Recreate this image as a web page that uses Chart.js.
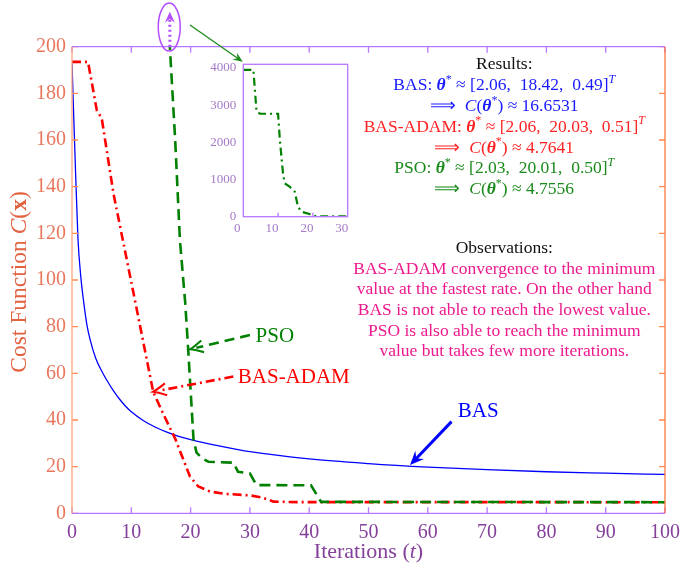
<!DOCTYPE html>
<html>
<head>
<meta charset="utf-8">
<script src="https://cdn.jsdelivr.net/npm/chart.js@4.4.0/dist/chart.umd.min.js"></script>
<style>
  html, body { margin: 0; padding: 0; background: #fff; }
  #wrap { position: relative; width: 681px; height: 569px; }
  #main  { position: absolute; left: 0; top: 0; }
  #inset { position: absolute; left: 195px; top: 55px; }
</style>
</head>
<body>
<div id="wrap">
  <canvas id="main" width="681" height="569"></canvas>
  <canvas id="inset" width="165" height="190"></canvas>
</div>
<script>
// ── data ─────────────────────────────────────────────────────────────────────
const basX  = [0, 0.5, 1, 1.5, 2, 2.5, 3, 4, 5, 6, 7, 8, 9, 10, 12, 14, 16, 18, 20, 25, 30, 40, 50, 60, 70, 80, 90, 100];
const basY  = [193, 154, 118, 101, 90, 81, 75, 66.5, 61, 56.5, 52.5, 49, 46, 43.5, 39.8, 37, 34.8, 33, 31.6, 28.8, 26.4, 23.3, 21.3, 19.8, 18.7, 17.8, 17.2, 16.65];

const adamX = [0, 2.7, 4.2, 5, 7, 10.6, 13.7, 15.5, 17.4, 19.9, 21.3, 23.3, 26, 30, 32, 34, 38, 100];
const adamY = [193.5, 193.5, 172.5, 169.5, 137, 91.5, 52, 42, 32, 15.7, 11.5, 9.3, 8.3, 7.7, 6.8, 5, 4.8, 4.76];

const psoX  = [16, 16.5, 17.4, 18.2, 19.1, 19.6, 19.9, 20.5, 21, 22, 23, 27.2, 28, 30, 31.1, 40.3, 42, 100];
const psoY  = [225, 200, 160, 117, 90, 70, 57, 31.4, 26, 23.5, 22.1, 21.7, 17.8, 17.1, 12.1, 12, 4.9, 4.76];

// inset: PSO over the first iterations
const insetX = [0, 2.9, 3.8, 4.8, 10, 10.5, 11.4, 11.9, 13.3, 14.8, 15.7, 16.7, 19, 20.5, 22, 30];
const insetY = [3950, 3950, 2830, 2770, 2770, 2070, 1170, 900, 810, 670, 270, 135, 73, 19, 10, 10];
const insetYTicks = [0, 1000, 2000, 3000, 4000];
const insetXTicks = [0, 10, 20, 30];

const xTicksMain = { min: 0, max: 100, step: 10 };
const yTicksMain = { min: 0, max: 200, step: 20 };

const pts = (xs, ys) => xs.map((v, i) => ({ x: v, y: ys[i] }));

// ── styles ───────────────────────────────────────────────────────────────────
const SERIF  = '"Liberation Serif", "Times New Roman", serif';
const f = (size, style) => `${style ? style + ' ' : ''}${size}px ${SERIF}`;

const _blue   = '#0000ff';
const _red    = '#ff0000';
const _green  = '#008000';
const _purple = '#b877ff';
const _orange = '#ff8a50';
const _xLbl   = '#84409a';
const _yLbl   = '#e8775d';
const _magenta = '#ec1a8c';

// draw a row of text pieces centred on cx
function runs(ctx, parts, cx, cy) {
  let w = 0;
  parts.forEach(p => { ctx.font = p.f; p.w = ctx.measureText(p.t).width; w += p.w; });
  let x = cx - w / 2;
  ctx.textAlign = 'left';
  ctx.textBaseline = 'middle';
  parts.forEach(p => {
    ctx.font = p.f; ctx.fillStyle = p.c;
    ctx.fillText(p.t, x, cy + (p.dy || 0));
    x += p.w;
  });
}

function arrow(ctx, x1, y1, x2, y2, o) {
  const ang = Math.atan2(y2 - y1, x2 - x1);
  const hl = o.head || 10, hw = o.hw || 5;
  ctx.save();
  ctx.strokeStyle = o.color; ctx.fillStyle = o.color;
  ctx.lineWidth = o.width; ctx.setLineDash(o.dash || []);
  ctx.beginPath();
  ctx.moveTo(x1, y1);
  ctx.lineTo(x2 - Math.cos(ang) * hl * 0.5, y2 - Math.sin(ang) * hl * 0.5);
  ctx.stroke();
  ctx.setLineDash([]);
  ctx.translate(x2, y2); ctx.rotate(ang);
  ctx.beginPath();
  if (o.open) {
    ctx.lineWidth = o.width * 0.8;
    ctx.moveTo(-hl, -hw); ctx.quadraticCurveTo(-hl * 0.3, -hw * 0.2, 0, 0);
    ctx.quadraticCurveTo(-hl * 0.3, hw * 0.2, -hl, hw);
    ctx.stroke();
  } else {
    ctx.moveTo(0, 0); ctx.lineTo(-hl, -hw); ctx.lineTo(-hl * 0.65, 0); ctx.lineTo(-hl, hw);
    ctx.closePath(); ctx.fill();
  }
  ctx.restore();
}

// frame, inner ticks, titles, annotations
const mainDecor = {
  id: 'mainDecor',
  afterDraw(chart) {
    const { ctx, chartArea: a, scales: { x, y } } = chart;
    const X = v => x.getPixelForValue(v), Y = v => y.getPixelForValue(v);
    ctx.save();
    ctx.lineWidth = 1.3;
    // inner ticks
    for (let v = xTicksMain.min; v <= xTicksMain.max; v += xTicksMain.step) {
      ctx.strokeStyle = _purple;
      ctx.beginPath();
      ctx.moveTo(X(v), a.bottom); ctx.lineTo(X(v), a.bottom - 6);
      ctx.moveTo(X(v), a.top); ctx.lineTo(X(v), a.top + 6);
      ctx.stroke();
    }
    for (let v = yTicksMain.min; v <= yTicksMain.max; v += yTicksMain.step) {
      ctx.strokeStyle = _orange;
      ctx.beginPath();
      ctx.moveTo(a.left, Y(v)); ctx.lineTo(a.left + 6, Y(v));
      ctx.moveTo(a.right, Y(v)); ctx.lineTo(a.right - 6, Y(v));
      ctx.stroke();
    }
    // frame
    ctx.strokeStyle = _purple;
    ctx.beginPath(); ctx.moveTo(a.left, a.top); ctx.lineTo(a.right, a.top);
    ctx.moveTo(a.left, a.bottom); ctx.lineTo(a.right, a.bottom); ctx.stroke();
    ctx.strokeStyle = '#ffa47a';
    ctx.beginPath(); ctx.moveTo(a.left, a.top); ctx.lineTo(a.left, a.bottom); ctx.stroke();
    ctx.strokeStyle = '#ff7a3c';
    ctx.beginPath(); ctx.moveTo(a.right, a.top); ctx.lineTo(a.right, a.bottom); ctx.stroke();

    // axis titles
    runs(ctx, [
      { t: 'Iterations (', f: f(22), c: _xLbl },
      { t: 't', f: f(22, 'italic'), c: _xLbl },
      { t: ')', f: f(22), c: _xLbl }
    ], (a.left + a.right) / 2, 552);
    ctx.save();
    ctx.translate(20, (a.top + a.bottom) / 2 + 2);
    ctx.rotate(-Math.PI / 2);
    runs(ctx, [
      { t: 'Cost Function ', f: f(23.5), c: '#e2613f' },
      { t: 'C', f: f(23.5, 'italic'), c: '#e2613f' },
      { t: '(', f: f(23.5), c: '#e2613f' },
      { t: 'x', f: f(23.5, 'bold'), c: '#e2613f' },
      { t: ')', f: f(23.5), c: '#e2613f' }
    ], 0, 0);
    ctx.restore();

    // results block
    const cx = X(72.9);
    const lh = 20.8;
    let ly = Y(192.2);
    const th = c => ({ t: 'θ', f: f(17.5, 'italic bold'), c });
    const st = c => ({ t: '*', f: f(12), c, dy: -6 });
    const sT = c => ({ t: 'T', f: f(12, 'italic'), c, dy: -6 });
    const cost = (c, val) => [
      { t: '⟹  ', f: f(17.5), c }, { t: 'C', f: f(17.5, 'italic'), c },
      { t: '(', f: f(17.5), c }, th(c), st(c), { t: ') ≈ ' + val, f: f(17.5), c }
    ];
    const theta = (c, name, vec) => [
      { t: name + ': ', f: f(17.5), c }, th(c), st(c),
      { t: ' ≈ [' + vec + ']', f: f(17.5), c }, sT(c)
    ];
    runs(ctx, [{ t: 'Results:', f: f(17.5), c: '#111' }], cx, ly);
    runs(ctx, theta('#1a1aff', 'BAS', '2.06,  18.42,  0.49'), cx, ly += lh);
    runs(ctx, cost('#1a1aff', '16.6531'), cx, ly += lh);
    runs(ctx, theta('#ff2424', 'BAS-ADAM', '2.06,  20.03,  0.51'), cx, ly += lh);
    runs(ctx, cost('#ff2424', '4.7641'), cx, ly += lh);
    runs(ctx, theta('#1a8a1a', 'PSO', '2.03,  20.01,  0.50'), cx, ly += lh);
    runs(ctx, cost('#1a8a1a', '4.7556'), cx, ly += lh);

    // observations block
    const obs = [
      'BAS-ADAM convergence to the minimum',
      'value at the fastest rate. On the other hand',
      'BAS is not able to reach the lowest value.',
      'PSO is also able to reach the minimum',
      'value but takes few more iterations.'
    ];
    let oy = Y(113.6);
    runs(ctx, [{ t: 'Observations:', f: f(17.5), c: '#111' }], cx, oy);
    obs.forEach(s => runs(ctx, [{ t: s, f: f(17.5), c: _magenta }], cx, oy += 20.7));

    // curve labels and arrows
    arrow(ctx, X(30), Y(76.4), X(19.9), Y(70.3), { color: _green, width: 2.6, dash: [10, 6], open: true, head: 13, hw: 6 });
    runs(ctx, [{ t: 'PSO', f: f(21), c: _green }], X(34.2), Y(75.9));
    arrow(ctx, X(27.2), Y(58.6), X(13.7), Y(52.1), { color: _red, width: 2.6, dash: [9, 4, 2, 4], open: true, head: 13, hw: 6 });
    runs(ctx, [{ t: 'BAS-ADAM', f: f(21), c: _red }], X(37.4), Y(58.3));
    arrow(ctx, X(64), Y(39.3), X(57), Y(20.7), { color: _blue, width: 3, head: 14, hw: 6 });
    runs(ctx, [{ t: 'BAS', f: f(21), c: _blue }], X(68.5), Y(43.5));

    // PSO goes off the top: ellipse and dotted arrow
    ctx.save();
    ctx.strokeStyle = '#b44dff'; ctx.lineWidth = 1.5;
    ctx.beginPath();
    ctx.ellipse(X(16.4), Y(208.4), 11, 24, 0, 0, Math.PI * 2);
    ctx.stroke();
    ctx.restore();
    arrow(ctx, X(16.5), Y(200), X(16.5), Y(215), { color: '#b44dff', width: 3, dash: [2, 3], head: 11, hw: 5 });
    // pointer to inset
    arrow(ctx, X(19.9), Y(209.3), X(28.8), Y(193.5), { color: '#1a8a1a', width: 1.3, head: 10, hw: 4 });
    ctx.restore();
  }
};

new Chart(document.getElementById('main'), {
  type: 'line',
  data: {
    datasets: [
      { label: 'PSO', data: pts(psoX, psoY), borderColor: _green, borderWidth: 2.6,
        borderDash: [11, 6], pointRadius: 0, tension: 0, clip: 0 },
      { label: 'BAS-ADAM', data: pts(adamX, adamY), borderColor: _red, borderWidth: 2.6,
        borderDash: [9, 4, 2, 4], pointRadius: 0, tension: 0 },
      { label: 'BAS', data: pts(basX, basY), borderColor: _blue, borderWidth: 1.3,
        pointRadius: 0, cubicInterpolationMode: 'monotone' }
    ]
  },
  options: {
    responsive: false,
    animation: false,
    layout: { padding: { top: 46.7, right: 16, left: 0, bottom: 0 } },
    plugins: { legend: { display: false }, tooltip: { enabled: false } },
    scales: {
      x: {
        type: 'linear', min: xTicksMain.min, max: xTicksMain.max,
        ticks: { stepSize: xTicksMain.step, color: _xLbl, font: { family: SERIF, size: 20 }, padding: 7, maxRotation: 0 },
        grid: { display: false, drawTicks: false }, border: { display: false },
        afterFit(s) { s.height = 55.7; s.paddingLeft = 0; s.paddingRight = 0; }
      },
      y: {
        type: 'linear', min: yTicksMain.min, max: yTicksMain.max,
        ticks: { stepSize: yTicksMain.step, color: _yLbl, font: { family: SERIF, size: 20 }, padding: 6 },
        grid: { display: false, drawTicks: false }, border: { display: false },
        afterFit(s) { s.width = 72; s.paddingTop = 0; s.paddingBottom = 0; }
      }
    }
  },
  plugins: [mainDecor]
});

// ── inset ────────────────────────────────────────────────────────────────────
const insetFrame = {
  id: 'insetFrame',
  afterDraw(chart) {
    const { ctx, chartArea: a, scales: { x } } = chart;
    ctx.save();
    ctx.strokeStyle = _purple; ctx.lineWidth = 1.3;
    ctx.strokeRect(a.left, a.top, a.right - a.left, a.bottom - a.top);
    ctx.beginPath();
    [10, 20].forEach(v => {
      ctx.moveTo(x.getPixelForValue(v), a.bottom); ctx.lineTo(x.getPixelForValue(v), a.bottom - 4);
    });
    ctx.stroke();
    ctx.restore();
  }
};

new Chart(document.getElementById('inset'), {
  type: 'line',
  data: {
    datasets: [{ data: pts(insetX, insetY), borderColor: _green, borderWidth: 2.2,
      borderDash: [8, 4, 2, 4], pointRadius: 0, tension: 0 }]
  },
  options: {
    responsive: false,
    animation: false,
    layout: { padding: { top: 9.3, right: 12.3, left: 0, bottom: 0 } },
    plugins: { legend: { display: false }, tooltip: { enabled: false } },
    scales: {
      x: {
        type: 'linear', min: 0, max: 30,
        afterBuildTicks(s) { s.ticks = insetXTicks.map(v => ({ value: v })); },
        ticks: { color: '#a57ac6', font: { family: SERIF, size: 13 }, padding: 4, labelOffset: -6, maxRotation: 0,
                 callback: v => String(v) },
        grid: { display: false, drawTicks: false }, border: { display: false },
        afterFit(s) { s.height = 28.3; s.paddingLeft = 0; s.paddingRight = 0; }
      },
      y: {
        type: 'linear', min: 0, max: 4100,
        afterBuildTicks(s) { s.ticks = insetYTicks.map(v => ({ value: v })); },
        ticks: { color: '#a57ac6', font: { family: SERIF, size: 13 }, padding: 7, callback: v => String(v) },
        grid: { display: false, drawTicks: false }, border: { display: false },
        afterFit(s) { s.width = 48.3; s.paddingTop = 0; s.paddingBottom = 0; }
      }
    }
  },
  plugins: [insetFrame]
});
</script>
</body>
</html>
